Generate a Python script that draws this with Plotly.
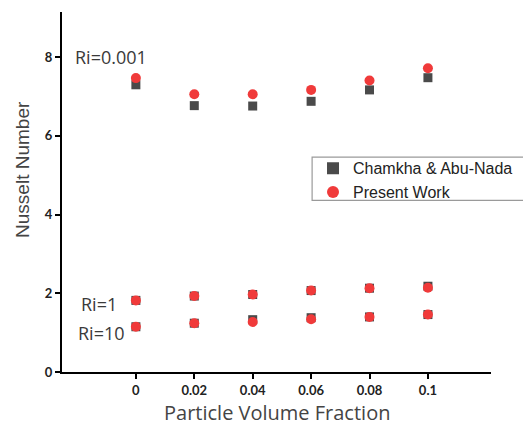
import plotly.graph_objects as go

# Particle volume fraction
phi = [0, 0.02, 0.04, 0.06, 0.08, 0.1]

# Chamkha & Abu-Nada reference values
chamkha_ri0001 = [7.30, 6.77, 6.76, 6.88, 7.17, 7.48]
chamkha_ri1 = [1.82, 1.93, 1.97, 2.07, 2.13, 2.18]
chamkha_ri10 = [1.15, 1.24, 1.33, 1.38, 1.40, 1.46]

# Present work values
present_ri0001 = [7.47, 7.06, 7.06, 7.17, 7.41, 7.72]
present_ri1 = [1.82, 1.93, 1.97, 2.07, 2.13, 2.14]
present_ri10 = [1.15, 1.24, 1.27, 1.34, 1.40, 1.46]

x_all = phi * 3
chamkha_all = chamkha_ri0001 + chamkha_ri1 + chamkha_ri10
present_all = present_ri0001 + present_ri1 + present_ri10

fig = go.Figure()
fig.add_trace(go.Scatter(
    x=x_all, y=chamkha_all, mode="markers", name="Chamkha & Abu-Nada",
    marker=dict(symbol="square", size=9, color="#4a4a4a"),
))
fig.add_trace(go.Scatter(
    x=x_all, y=present_all, mode="markers", name="Present Work",
    marker=dict(symbol="circle", size=10, color="#f03a3a"),
))

# Richardson number labels
label_font = dict(family="Open Sans, sans-serif", size=18, color="#3a3a3a")
fig.add_annotation(x=-0.0215, y=8.0, text="Ri=0.001", showarrow=False,
                   xanchor="left", yanchor="middle", font=label_font)
fig.add_annotation(x=-0.0195, y=1.72, text="Ri=1", showarrow=False,
                   xanchor="left", yanchor="middle", font=label_font)
fig.add_annotation(x=-0.0205, y=1.0, text="Ri=10", showarrow=False,
                   xanchor="left", yanchor="middle", font=label_font)

# Axis titles
fig.add_annotation(xref="paper", yref="paper", x=-0.091, y=0.564,
                   text="Nusselt Number", textangle=-90, showarrow=False,
                   xanchor="center", yanchor="middle",
                   font=dict(family="Liberation Sans, Arial, sans-serif", size=19, color="#444444"))
fig.add_annotation(xref="paper", yref="paper", x=0.501, y=-0.112,
                   text="Particle Volume Fraction", showarrow=False,
                   xanchor="center", yanchor="middle",
                   font=dict(family="Open Sans, sans-serif", size=20, color="#444444"))

# Legend frame running off the right edge
fig.add_shape(type="rect", xref="paper", yref="paper",
              x0=0.583, x1=1.2, y0=0.477, y1=0.597,
              line=dict(color="#9a9a9a", width=1.2), fillcolor="white", layer="below")

tick_font = dict(family="Lato, sans-serif", size=13, color="#222222", weight="bold")

fig.update_layout(
    width=523, height=425,
    margin=dict(l=62, r=32, t=12, b=53, autoexpand=False),
    plot_bgcolor="white", paper_bgcolor="white",
    legend=dict(
        xref="container", yref="container",
        x=0.5985, y=0.644, xanchor="left", yanchor="top",
        borderwidth=0, bgcolor="rgba(0,0,0,0)",
        font=dict(family="Arial, Liberation Sans, sans-serif", size=16, color="#222222"),
        itemsizing="constant", tracegroupgap=0,
    ),
    xaxis=dict(
        range=[-0.0253, 0.1216], automargin=False,
        tickvals=phi, ticktext=["0", "0.02", "0.04", "0.06", "0.08", "0.1"],
        showgrid=False, zeroline=False,
        showline=True, linecolor="black", linewidth=2,
        ticks="outside", ticklen=5, tickcolor="black", tickwidth=1.5,
        tickfont=tick_font,
    ),
    yaxis=dict(
        range=[0, 9.15], automargin=False,
        tickvals=[0, 2, 4, 6, 8],
        showgrid=False, zeroline=False,
        showline=True, linecolor="black", linewidth=2,
        ticks="outside", ticklen=5, tickcolor="black", tickwidth=1.5,
        tickfont=tick_font,
    ),
)

fig.write_html("out.html")
